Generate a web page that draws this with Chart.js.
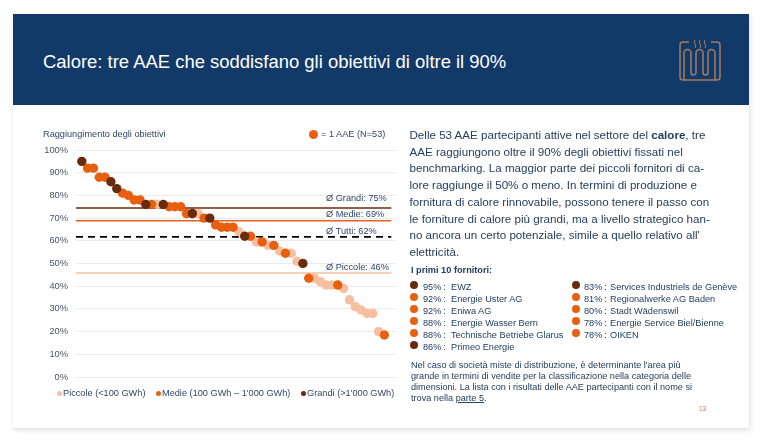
<!DOCTYPE html>
<html lang="it">
<head>
  <meta charset="UTF-8">
  <title>Calore</title>
  <script src="https://cdn.jsdelivr.net/npm/chart.js"></script>
  <style>
    body {
      background: #fff;
      margin: 0;
      width: 760px;
      height: 440px;
      overflow: hidden;
      font-family: 'Liberation Sans', Arial, sans-serif;
      color: #24405f;
    }
    .slide {
      position: absolute;
      left: 13px;
      top: 14px;
      width: 736px;
      height: 414px;
      background: #fff;
      box-shadow: 1px 2px 5px rgba(0,0,0,0.14);
    }
    .header {
      position: absolute;
      left: 13px;
      top: 14px;
      width: 736px;
      height: 91px;
      background: #123a68;
    }
    h1 {
      position: absolute;
      left: 43px;
      top: 50px;
      margin: 0;
      font-size: 18.45px;
      line-height: 24px;
      font-weight: normal;
      color: #fff;
      white-space: nowrap;
    }
    #icon { position: absolute; left: 675px; top: 35px; }
    #chart-box { position: absolute; left: 30px; top: 120px; width: 392px; height: 290px; }
    .chart-title { position: absolute; left: 43px; top: 128px; font-size: 9.2px; line-height: 12px; color: #2f4668; }
    .one-dot { position: absolute; left: 308.5px; top: 129.5px; width: 9px; height: 9px; border-radius: 50%; background: #e8600f; }
    .one-label { position: absolute; left: 321px; top: 128px; font-size: 9.2px; line-height: 12px; color: #2f4668; white-space: nowrap; }
    .leg { position: absolute; top: 387px; font-size: 9.2px; line-height: 12px; color: #2f4668; white-space: nowrap; }
    .leg i { position: absolute; left: -6.5px; top: 3.5px; width: 5px; height: 5px; border-radius: 50%; }
    .intro {
      position: absolute;
      left: 409.5px;
      top: 127px;
      font-size: 11.6px;
      line-height: 16.7px;
      white-space: nowrap;
    }
    .top-title { position: absolute; left: 411px; top: 264px; font-size: 9.2px; line-height: 12px; font-weight: bold; }
    .row { position: absolute; font-size: 9.2px; line-height: 12px; white-space: nowrap; }
    .row i { position: absolute; top: 0.6px; width: 8px; height: 8px; border-radius: 50%; }
    .row b { position: absolute; top: 0; font-weight: normal; }
    .note {
      position: absolute;
      left: 411px;
      top: 359.8px;
      font-size: 9.15px;
      line-height: 11px;
      white-space: nowrap;
    }
    .page-no { position: absolute; left: 699px; top: 405px; font-size: 6.5px; line-height: 8px; color: #d9763a; }
  </style>
</head>
<body>

<div class="slide"></div>
<div class="header"></div>
<h1>Calore: tre AAE che soddisfano gli obiettivi di oltre il 90%</h1>
<svg id="icon" width="50" height="50" viewBox="0 0 50 50" fill="none" stroke="#a57b62" stroke-width="1.5">
  <path d="M14 7 H8 a3 3 0 0 0 -3 3 V42 a3 3 0 0 0 3 3 H42 a3 3 0 0 0 3 -3 V10 a3 3 0 0 0 -3 -3 H36"/>
  <path d="M9 45 V18 a3.5 3.5 0 0 1 7 0 V37.5 a2.5 2.5 0 0 0 5 0 V18 a3.5 3.5 0 0 1 7 0 V37.5 a2.5 2.5 0 0 0 5 0 V18 a3.5 3.5 0 0 1 7 0 V45"/>
  <path d="M20 5 q-1.5 2 0 4 q1.5 2 0 4 M25 5 q-1.5 2 0 4 q1.5 2 0 4 M30 5 q-1.5 2 0 4 q1.5 2 0 4" stroke-width="1"/>
</svg>

<div id="chart-box"><canvas id="chart"></canvas></div>
<div class="chart-title">Raggiungimento degli obiettivi</div>
<div class="one-dot"></div>
<div class="one-label">= 1 AAE (N=53)</div>
<div id="legend"></div>

<div class="intro">
  Delle 53 AAE partecipanti attive nel settore del <strong>calore</strong>, tre<br>
  AAE raggiungono oltre il 90% degli obiettivi fissati nel<br>
  benchmarking. La maggior parte dei piccoli fornitori di ca-<br>
  lore raggiunge il 50% o meno. In termini di produzione e<br>
  fornitura di calore rinnovabile, possono tenere il passo con<br>
  le forniture di calore più grandi, ma a livello strategico han-<br>
  no ancora un certo potenziale, simile a quello relativo all'<br>
  elettricità.
</div>

<div class="top-title">I primi 10 fornitori:</div>
<div id="top-list"></div>

<div class="note">
  Nel caso di società miste di distribuzione, è determinante l'area più<br>
  grande in termini di vendite per la classificazione nella categoria delle<br>
  dimensioni. La lista con i risultati delle AAE partecipanti con il nome si<br>
  trova nella <u>parte 5</u>.
</div>
<div class="page-no">13</div>

<script>
// punti ordinati per raggiungimento, P = piccole, M = medie, G = grandi
const obiettivi = [95, 92, 92, 88, 88, 86, 83, 81, 80, 78, 78, 76, 76, 76, 76, 75, 75, 75, 72, 72,
                   72, 70, 70, 67, 66, 66, 66, 64, 62, 62, 59.5, 59.5, 58, 58, 55.5, 54.5, 54.5, 51, 50, 43.5,
                   43.5, 42, 40.5, 40.5, 40.5, 39, 34, 31, 29.5, 28, 28, 20, 18.5];
const dimensioni = ['G','M','M','M','M','G','G','M','M','M','M','G','M','P','G','M','M','M','M','G',
                    'P','M','G','M','M','M','M','P','G','M','P','M','P','M','P','M','P','P','G','M',
                    'P','P','P','P','M','P','P','P','P','P','P','P','M'];

const medieLabels = ['Ø Grandi: 75%', 'Ø Medie: 69%', 'Ø Tutti: 62%', 'Ø Piccole: 46%'];
const medieValori = [74.5, 68.8, 61.7, 45.8];
const yTicks = [0, 10, 20, 30, 40, 50, 60, 70, 80, 90, 100];
const gruppiLabels = ['Piccole (<100 GWh)', 'Medie (100 GWh – 1\'000 GWh)', 'Grandi (>1\'000 GWh)'];

const fornitoriSx = ['EWZ', 'Energie Uster AG', 'Eniwa AG', 'Energie Wasser Bern', 'Technische Betriebe Glarus', 'Primeo Energie'];
const percentSx = [95, 92, 92, 88, 88, 86];
const gruppoSx = ['G', 'M', 'M', 'M', 'M', 'G'];
const fornitoriDx = ['Services Industriels de Genève', 'Regionalwerke AG Baden', 'Stadt Wädenswil', 'Energie Service Biel/Bienne', 'OIKEN'];
const percentDx = [83, 81, 80, 78, 78];
const gruppoDx = ['G', 'M', 'M', 'M', 'M'];

const colori = { P: '#f6bfa0', M: '#e8600f', G: '#682b0b' };

function addRows(names, percents, groups, left, dotLeft, nameLeft) {
  const box = document.getElementById('top-list');
  names.forEach((name, i) => {
    const row = document.createElement('div');
    row.className = 'row';
    row.style.left = left + 'px';
    row.style.top = (280.7 + i * 12) + 'px';
    row.innerHTML = '<i style="left:' + dotLeft + 'px;background:' + colori[groups[i]] + '"></i>' + percents[i] +
      '%\u2009:<b style="left:' + nameLeft + 'px">' + name + '</b>';
    box.appendChild(row);
  });
}
addRows(fornitoriSx, percentSx, gruppoSx, 423, -13, 28);
addRows(fornitoriDx, percentDx, gruppoDx, 584, -12, 26);

function addLegend(label, gruppo, left) {
  const el = document.createElement('div');
  el.className = 'leg';
  el.style.left = left + 'px';
  el.innerHTML = '<i style="background:' + colori[gruppo] + '"></i>';
  el.appendChild(document.createTextNode(label));
  document.getElementById('legend').appendChild(el);
}
addLegend(gruppiLabels[0], 'P', 63);
addLegend(gruppiLabels[1], 'M', 162);
addLegend(gruppiLabels[2], 'G', 307);

function punti(gruppo) {
  const out = [];
  obiettivi.forEach((v, i) => {
    if (dimensioni[i] === gruppo) out.push({ x: i, y: v });
  });
  return out;
}

function lineaMedia(i, color, extra) {
  return Object.assign({
    type: 'line',
    label: medieLabels[i],
    data: [{ x: -1, y: medieValori[i] }, { x: 53.2, y: medieValori[i] }],
    borderColor: color,
    borderWidth: 1.5,
    pointRadius: 0,
    fill: false
  }, extra);
}

function gruppoPunti(label, gruppo) {
  return {
    label: label,
    data: punti(gruppo),
    backgroundColor: colori[gruppo],
    borderWidth: 0,
    pointRadius: 4.7
  };
}

// etichette delle medie sopra le linee
const labelOffset = [9, 6, 5.5, 5.5];
const medieLabelPlugin = {
  id: 'medieLabel',
  afterDatasetsDraw(chart) {
    const { ctx, scales } = chart;
    ctx.save();
    ctx.font = "9.2px 'Liberation Sans', Arial, sans-serif";
    ctx.fillStyle = '#2f4668';
    ctx.textBaseline = 'middle';
    medieLabels.forEach((t, i) => {
      ctx.fillText(t, 296, scales.y.getPixelForValue(medieValori[i]) - labelOffset[i]);
    });
    ctx.restore();
  }
};

new Chart(document.getElementById('chart'), {
  type: 'scatter',
  data: {
    datasets: [
      lineaMedia(0, '#682b0b'),
      lineaMedia(1, '#e8601c'),
      lineaMedia(2, '#000000', { borderDash: [7, 5], borderWidth: 1.8 }),
      lineaMedia(3, '#f6bfa0'),
      gruppoPunti(gruppiLabels[0], 'P'),
      gruppoPunti(gruppiLabels[1], 'M'),
      gruppoPunti(gruppiLabels[2], 'G')
    ].map((d, i, all) => Object.assign(d, { order: all.length - i }))
  },
  options: {
    responsive: true,
    maintainAspectRatio: false,
    animation: false,
    layout: { padding: { top: 30, right: 26, bottom: 33, left: 0 } },
    plugins: {
      tooltip: { enabled: false },
      legend: { display: false }
    },
    scales: {
      x: { display: false, type: 'linear', min: -1, max: 54 },
      y: {
        min: 0,
        max: 100,
        afterFit: s => { s.width = 46; },
        afterBuildTicks: s => { s.ticks = yTicks.map(v => ({ value: v })); },
        border: { display: false },
        grid: { color: '#e9ebee', lineWidth: 1, drawTicks: false },
        ticks: {
          padding: 8,
          color: '#44546a',
          font: { family: "'Liberation Sans', Arial, sans-serif", size: 9.3 },
          callback: v => v + '%'
        }
      }
    }
  },
  plugins: [medieLabelPlugin]
});
</script>

</body>
</html>
